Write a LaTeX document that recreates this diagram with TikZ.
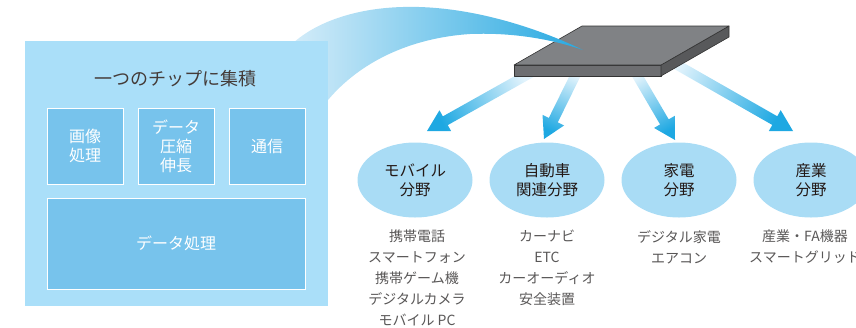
\documentclass[tikz,border=0pt]{standalone}
\usepackage{fontspec}
\setmainfont{Noto Sans CJK JP}
\usetikzlibrary{shapes.geometric,calc}

\definecolor{panel}{HTML}{AADFF9}
\definecolor{block}{HTML}{77C3EC}
\definecolor{field}{HTML}{A9DCF5}
\definecolor{flowlo}{HTML}{E2F3FC}
\definecolor{flowhi}{HTML}{1EA8E2}
\definecolor{bandlo}{HTML}{D4ECF9}
\definecolor{bandmid}{HTML}{A9DAF3}
\definecolor{bandhi}{HTML}{27A9E1}
\definecolor{txt}{HTML}{231815}
\definecolor{itemtxt}{HTML}{595757}
\definecolor{chiptop}{HTML}{808285}
\definecolor{chipfront}{HTML}{6D6E71}
\definecolor{chipside}{HTML}{58595B}
\definecolor{chipedge}{HTML}{333333}

\tikzset{
  panelbox/.style={fill=panel, draw=none, inner sep=0},
  blockbox/.style={fill=block, draw=white, line width=0.8pt, text=white,
    font=\fontsize{16}{19}\selectfont, align=center, inner sep=0},
  titletext/.style={text=txt!85, font=\fontsize{18}{22}\selectfont, inner sep=0},
  fieldellipse/.style={ellipse, fill=field, minimum width=115pt, minimum height=75pt,
    inner sep=0, align=center, font=\fontsize{15.5}{19}\selectfont, text=txt},
  itemlist/.style={anchor=north, align=center, inner sep=0, text=itemtxt,
    font=\fontsize{14}{21}\selectfont},
  chipface/.style={draw=chipedge, line width=0.6pt, line join=round},
}

% fat arrow with a gradient running from its tail (#1) to its tip (#2)
\newcommand{\flowarrow}[2]{%
  \pgfmathanglebetweenpoints{\pgfpointanchor{#1}{center}}{\pgfpointanchor{#2}{center}}%
  \pgfmathsetmacro\flowang{\pgfmathresult-90}%
  \coordinate (#1h) at ($(#2)!21pt!(#1)$);
  \shade[bottom color=flowlo, top color=flowhi, shading angle=\flowang]
    ($(#1)!5pt!90:(#2)$) -- ($(#1h)!5pt!90:(#2)$) -- ($(#1h)!12pt!90:(#2)$)
    -- (#2)
    -- ($(#1h)!12pt!-90:(#2)$) -- ($(#1h)!5pt!-90:(#2)$) -- ($(#1)!5pt!-90:(#2)$)
    -- cycle;}

\begin{document}
\begin{tikzpicture}[x=1pt,y=-1pt]
\useasboundingbox (0,0) rectangle (856,327);
\clip (0,0) rectangle (856,327);

% arrow end points
\coordinate (s1) at (534,71);  \coordinate (e1) at (427,131);
\coordinate (s2) at (578,70);  \coordinate (e2) at (544,139);
\coordinate (s3) at (634,70);  \coordinate (e3) at (675,140);
\coordinate (s4) at (665,58);  \coordinate (e4) at (793,131);

\flowarrow{s1}{e1}
\flowarrow{s2}{e2}
\flowarrow{s3}{e3}
\flowarrow{s4}{e4}

% the chip
\coordinate (cfl) at (514,65);
\coordinate (cbl) at (582,26);
\coordinate (cbr) at (729,26);
\coordinate (cfr) at (661,65);
\filldraw[chipface, fill=chipfront] (cfl) -- (cfr) -- ($(cfr)+(0,11)$) -- ($(cfl)+(0,11)$) -- cycle;
\filldraw[chipface, fill=chipside] (cfr) -- (cbr) -- ($(cbr)+(0,11)$) -- ($(cfr)+(0,11)$) -- cycle;
\filldraw[chipface, fill=chiptop] (cfl) -- (cbl) -- (cbr) -- (cfr) -- cycle;

% sweeping band from the panel into the chip
\shade[left color=bandlo, middle color=bandmid, right color=bandhi]
  (583,50) .. controls (540,29) and (470,5) .. (403,7)
  .. controls (360,8) and (318,20) .. (292,44)
  -- (300,120)
  -- (328,100) .. controls (360,62) and (410,38) .. (470,34)
  .. controls (520,32) and (560,42) .. (583,50) -- cycle;

% panel with the integrated blocks
\node[panelbox, minimum width=303pt, minimum height=265pt] (panel) at (176.5,173.5) {};
\node[titletext] (title) at (175,79) {一つのチップに集積};
\node[blockbox, minimum width=76pt, minimum height=76pt] (img) at (85,146) {画像\\処理};
\node[blockbox, minimum width=76pt, minimum height=76pt] (cmp) at (176,146) {データ\\圧縮\\伸長};
\node[blockbox, minimum width=76pt, minimum height=76pt] (com) at (267,146) {通信};
\node[blockbox, minimum width=258pt, minimum height=91pt] (dat) at (176,243.5) {データ処理};

% application fields
\node[fieldellipse] (mob) at (415,180) {モバイル\\分野};
\node[fieldellipse] (car) at (547,180) {自動車\\関連分野};
\node[fieldellipse] (home) at (679,180) {家電\\分野};
\node[fieldellipse] (ind) at (811,180) {産業\\分野};

\node[itemlist] (mobl) at (417,230) {携帯電話\\スマートフォン\\携帯ゲーム機\\デジタルカメラ\\モバイル PC};
\node[itemlist] (carl) at (547,230) {カーナビ\\ETC\\カーオーディオ\\安全装置};
\node[itemlist] (homel) at (679,230) {デジタル家電\\エアコン};
\node[itemlist] (indl) at (805,230) {産業・FA機器\\スマートグリッド};
\end{tikzpicture}
\end{document}
